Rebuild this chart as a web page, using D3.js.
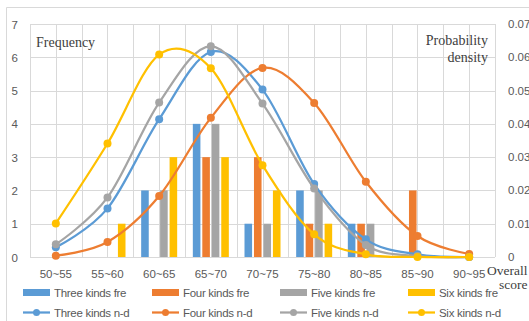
<!DOCTYPE html>
<html>
<head>
<meta charset="utf-8">
<script src="https://cdn.jsdelivr.net/npm/d3@7/dist/d3.min.js"></script>
<style>
  html, body { margin: 0; padding: 0; background: #fff; }
  svg { display: block; }
  .tick-label { font-family: "Liberation Sans", Arial, sans-serif; font-size: 11.5px; fill: #595959; }
  .title-serif { font-family: "Liberation Serif", "Times New Roman", serif; font-size: 14px; fill: #404040; }
  .legend-text { font-family: "Liberation Sans", Arial, sans-serif; font-size: 11.5px; fill: #595959; letter-spacing: -0.3px; }
</style>
</head>
<body>
<svg id="chart" width="529" height="321"></svg>
<script>
// Score bands
const categories = ["50~55", "55~60", "60~65", "65~70", "70~75", "75~80", "80~85", "85~90", "90~95"];

// Frequency counts (left axis)
const threeFre = [0, 0, 2, 4, 1, 2, 1, 0, 0];
const fourFre  = [0, 0, 0, 3, 3, 1, 1, 2, 0];
const fiveFre  = [0, 0, 2, 4, 1, 2, 1, 0, 0];
const sixFre   = [0, 1, 3, 3, 2, 1, 0, 0, 0];

// Normal-distribution probability density (right axis)
const threeND = [0.0029, 0.0146, 0.0414, 0.0616, 0.0503, 0.0219, 0.0053, 0.0008, 0.0000];
const fourND  = [0.0004, 0.0045, 0.0183, 0.0418, 0.0568, 0.0463, 0.0226, 0.0063, 0.0009];
const fiveND  = [0.0038, 0.0179, 0.0464, 0.0633, 0.0461, 0.0206, 0.0036, 0.0003, 0.0000];
const sixND   = [0.0101, 0.0341, 0.0608, 0.0567, 0.0276, 0.0068, 0.0008, 0.0000, 0.0000];

// Axis ticks
const leftTicks  = [0, 1, 2, 3, 4, 5, 6, 7];
const rightTicks = [0, 0.01, 0.02, 0.03, 0.04, 0.05, 0.06, 0.07];
const rightTickLabels = ["0", "0.01", "0.02", "0.03", "0.04", "0.05", "0.06", "0.07"];

const barSeries = [
  { name: "Three kinds fre", values: threeFre, color: "#5B9BD5" },
  { name: "Four kinds fre",  values: fourFre,  color: "#ED7D31" },
  { name: "Five kinds fre",  values: fiveFre,  color: "#A5A5A5" },
  { name: "Six kinds fre",   values: sixFre,   color: "#FFC000" }
];
const lineSeries = [
  { name: "Three kinds n-d", values: threeND, color: "#5B9BD5" },
  { name: "Four kinds n-d",  values: fourND,  color: "#ED7D31" },
  { name: "Five kinds n-d",  values: fiveND,  color: "#A5A5A5" },
  { name: "Six kinds n-d",   values: sixND,   color: "#FFC000" }
];

const svg = d3.select("#chart");
const plot = { left: 30, right: 495, top: 24, bottom: 257 };

// Outer chart frame
svg.append("path")
  .attr("d", `M6.5,330 V7.5 H540`)
  .attr("fill", "none").attr("stroke", "#D9D9D9").attr("stroke-width", 1);

const x = d3.scaleBand().domain(categories).range([plot.left, plot.right]).padding(0);
const yL = d3.scaleLinear().domain([0, 7]).range([plot.bottom, plot.top]);
const yR = d3.scaleLinear().domain([0, 0.07]).range([plot.bottom, plot.top]);

// Gridlines: horizontal per unit, vertical at band edges and centres
const grid = svg.append("g").attr("stroke", "#D9D9D9").attr("stroke-width", 1);
leftTicks.forEach(t => {
  const yy = Math.round(yL(t)) + 0.5;
  grid.append("line").attr("x1", plot.left).attr("x2", plot.right).attr("y1", yy).attr("y2", yy);
});
const vLines = [];
categories.forEach(c => { vLines.push(x(c)); vLines.push(x(c) + x.bandwidth() / 2); });
vLines.push(plot.right);
vLines.forEach(v => {
  const xx = Math.round(v) + 0.5;
  grid.append("line").attr("x1", xx).attr("x2", xx).attr("y1", plot.top).attr("y2", plot.bottom);
});

// Left axis labels
const leftAxis = d3.axisLeft(yL).tickValues(leftTicks).tickSize(0).tickPadding(0).tickFormat(d3.format("d"));
const gL = svg.append("g").attr("transform", `translate(18,0)`).call(leftAxis);
gL.select(".domain").remove();
gL.selectAll("text").attr("class", "tick-label").attr("dy", "0.35em");

// Right axis labels
const rightAxis = d3.axisRight(yR).tickValues(rightTicks).tickSize(0).tickPadding(0)
  .tickFormat((d, i) => rightTickLabels[i]);
const gR = svg.append("g").attr("transform", `translate(508,0)`).call(rightAxis);
gR.select(".domain").remove();
gR.selectAll("text").attr("class", "tick-label").attr("dy", "0.3em");

// Category axis labels
const bottomAxis = d3.axisBottom(x).tickSize(0).tickPadding(0);
const gB = svg.append("g").attr("transform", `translate(0,${plot.bottom + 13})`).call(bottomAxis);
gB.select(".domain").remove();
gB.selectAll("text").attr("class", "tick-label").attr("dy", "0.71em");

// Clustered bars
const x1 = d3.scaleBand().domain(barSeries.map(s => s.name))
  .range([0, 36]).paddingInner(0.2).paddingOuter(0);
const bandOffset = (x.bandwidth() - 36) / 2;
barSeries.forEach(s => {
  svg.append("g").selectAll("rect")
    .data(s.values.map((v, i) => ({ v, c: categories[i] })).filter(d => d.v > 0))
    .join("rect")
    .attr("x", d => x(d.c) + bandOffset + x1(s.name))
    .attr("width", x1.bandwidth())
    .attr("y", d => yL(d.v))
    .attr("height", d => yL(0) - yL(d.v))
    .attr("fill", s.color);
});

// Smoothed density lines with markers
const line = d3.line()
  .x((d, i) => x(categories[i]) + x.bandwidth() / 2)
  .y(d => yR(d))
  .curve(d3.curveCardinal.tension(0));
lineSeries.forEach(s => {
  svg.append("path").datum(s.values)
    .attr("d", line)
    .attr("fill", "none").attr("stroke", s.color).attr("stroke-width", 2.25);
  svg.append("g").selectAll("circle").data(s.values).join("circle")
    .attr("cx", (d, i) => x(categories[i]) + x.bandwidth() / 2)
    .attr("cy", d => yR(d))
    .attr("r", 4)
    .attr("fill", s.color);
});

// Axis titles
svg.append("text").attr("class", "title-serif").attr("x", 36).attr("y", 47).text("Frequency");
svg.append("text").attr("class", "title-serif").attr("x", 488).attr("y", 45).attr("text-anchor", "end").text("Probability");
svg.append("text").attr("class", "title-serif").attr("x", 488).attr("y", 62).attr("text-anchor", "end").text("density");
svg.append("text").attr("class", "title-serif").attr("x", 487).attr("y", 275).style("font-size", "13.5px").text("Overall");
svg.append("text").attr("class", "title-serif").attr("x", 499).attr("y", 289).style("font-size", "13.5px").text("score");

// Legend
const legCols = [23, 152, 280, 408];
const legend = svg.append("g");
barSeries.forEach((s, i) => {
  legend.append("rect").attr("x", legCols[i]).attr("y", 289).attr("width", 27).attr("height", 7).attr("fill", s.color);
  legend.append("text").attr("class", "legend-text").attr("x", legCols[i] + 31).attr("y", 297).text(s.name);
});
lineSeries.forEach((s, i) => {
  legend.append("line").attr("x1", legCols[i]).attr("x2", legCols[i] + 27)
    .attr("y1", 312.5).attr("y2", 312.5).attr("stroke", s.color).attr("stroke-width", 2.25);
  legend.append("circle").attr("cx", legCols[i] + 13.5).attr("cy", 312.5).attr("r", 3.5).attr("fill", s.color);
  legend.append("text").attr("class", "legend-text").attr("x", legCols[i] + 31).attr("y", 317).text(s.name);
});
</script>
</body>
</html>
